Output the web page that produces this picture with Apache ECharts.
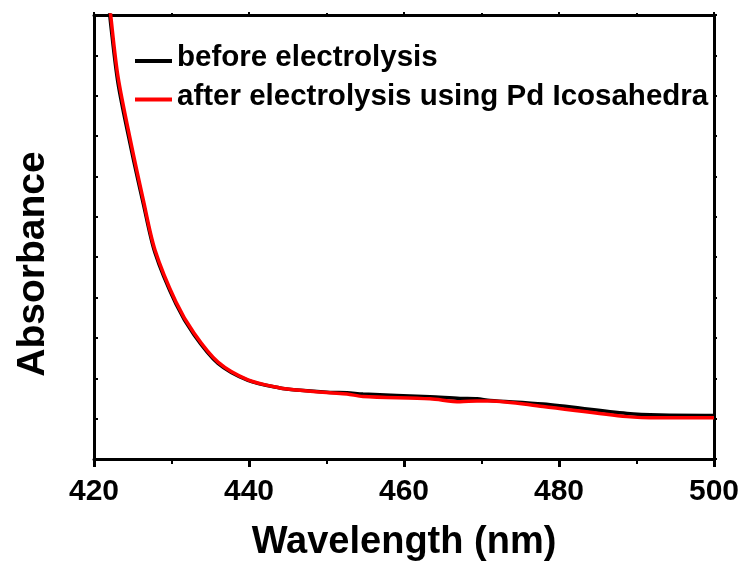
<!DOCTYPE html>
<html>
<head>
<meta charset="utf-8">
<script src="https://cdn.jsdelivr.net/npm/echarts@6/dist/echarts.min.js"></script>
<style>
  html, body { margin: 0; padding: 0; background: #fff; }
  #chart { width: 743px; height: 562px; }
</style>
</head>
<body>
<div id="chart"></div>
<script>
// UV-vis spectra, absorbance in arbitrary units (axis unlabelled)
const wavelengths = [421.9, 422.15, 423.1, 424.77, 426.36, 427.87, 430.58, 432.9, 436.0,
                     439.87, 444.0, 446.19, 450.45, 452.65, 454.71, 463.35, 467.23, 469.42, 471.1,
                     477.94, 488.77, 493.03, 500.0];
const beforeAbs = [1.13, 1.079, 0.931, 0.771, 0.633, 0.511, 0.384, 0.308, 0.237,
                   0.195, 0.176, 0.171, 0.165, 0.164, 0.161, 0.154, 0.150, 0.149, 0.145,
                   0.136, 0.113, 0.109, 0.108];
const afterAbs  = [1.15, 1.100, 0.947, 0.783, 0.642, 0.518, 0.389, 0.312, 0.240,
                   0.196, 0.176, 0.171, 0.164, 0.161, 0.155, 0.149, 0.142, 0.144, 0.144,
                   0.130, 0.105, 0.102, 0.102];
const seriesNames = ['before electrolysis', 'after electrolysis using Pd Icosahedra'];
const xTitle = 'Wavelength (nm)';
const yTitle = 'Absorbance';

const font = "Arial, 'Liberation Sans', Helvetica, sans-serif";
const pairs = (xs, ys) => xs.map((x, i) => [x, ys[i]]);

const chart = echarts.init(document.getElementById('chart'), null, { renderer: 'canvas' });

const axisLine = { show: true, onZero: false, lineStyle: { color: '#000', width: 3 } };

chart.setOption({
  animation: false,
  backgroundColor: '#fff',
  grid: { left: 94, right: 29, top: 15, bottom: 103, containLabel: false, outerBoundsMode: 'none' },
  legend: {
    orient: 'vertical',
    left: 135,
    top: 43,
    padding: 0,
    itemGap: 5,
    icon: 'rect',
    itemWidth: 37,
    itemHeight: 4,
    // small empty second line lifts the label so the swatch sits near its baseline
    formatter: name => '{t|' + name + '}\n{g| }',
    textStyle: {
      rich: {
        t: { fontFamily: font, fontWeight: 'bold', fontSize: 29.5, color: '#000', lineHeight: 30 },
        g: { fontSize: 1, lineHeight: 6 }
      }
    },
    data: seriesNames
  },
  xAxis: [
    {
      type: 'value', min: 420, max: 500, interval: 20, position: 'bottom',
      axisLine: axisLine,
      axisTick: { show: true, inside: false, length: 8, lineStyle: { color: '#000', width: 3 } },
      minorTick: { show: true, splitNumber: 2, length: 5, lineStyle: { color: '#000', width: 2 } },
      splitLine: { show: false },
      axisLabel: { fontFamily: font, fontWeight: 'bold', fontSize: 30, color: '#000', margin: 18 },
      name: xTitle, nameLocation: 'middle', nameGap: 65,
      nameTextStyle: { fontFamily: font, fontWeight: 'bold', fontSize: 38, color: '#000', verticalAlign: 'top' }
    },
    {
      type: 'value', min: 420, max: 500, interval: 20, position: 'top',
      axisLine: axisLine,
      axisTick: { show: true, inside: false, length: 3, lineStyle: { color: '#000', width: 2 } },
      minorTick: { show: true, splitNumber: 2, length: 2, lineStyle: { color: '#000', width: 2 } },
      splitLine: { show: false },
      axisLabel: { show: false }
    }
  ],
  yAxis: [
    {
      type: 'value', min: 0, max: 1.1, interval: 0.1, position: 'left',
      axisLine: axisLine,
      axisTick: { show: true, inside: true, length: 4, lineStyle: { color: '#000', width: 2 } },
      splitLine: { show: false },
      axisLabel: { show: false },
      name: yTitle, nameLocation: 'middle', nameGap: 41, nameRotate: 90,
      nameTextStyle: { fontFamily: font, fontWeight: 'bold', fontSize: 39, color: '#000', padding: [0, 54, 0, 0] }
    },
    {
      type: 'value', min: 0, max: 1.1, interval: 0.1, position: 'right',
      axisLine: axisLine,
      axisTick: { show: true, inside: false, length: 3, lineStyle: { color: '#000', width: 2 } },
      splitLine: { show: false },
      axisLabel: { show: false }
    }
  ],
  series: [
    {
      name: seriesNames[0], type: 'line', xAxisIndex: 0, yAxisIndex: 0,
      data: pairs(wavelengths, beforeAbs),
      showSymbol: false, smooth: 0.3, clip: true,
      lineStyle: { color: '#000', width: 3.5 }, itemStyle: { color: '#000' }, z: 2
    },
    {
      name: seriesNames[1], type: 'line', xAxisIndex: 0, yAxisIndex: 0,
      data: pairs(wavelengths, afterAbs),
      showSymbol: false, smooth: 0.3, clip: true,
      lineStyle: { color: '#ff0000', width: 3.5 }, itemStyle: { color: '#ff0000' }, z: 3
    }
  ]
});
</script>
</body>
</html>
